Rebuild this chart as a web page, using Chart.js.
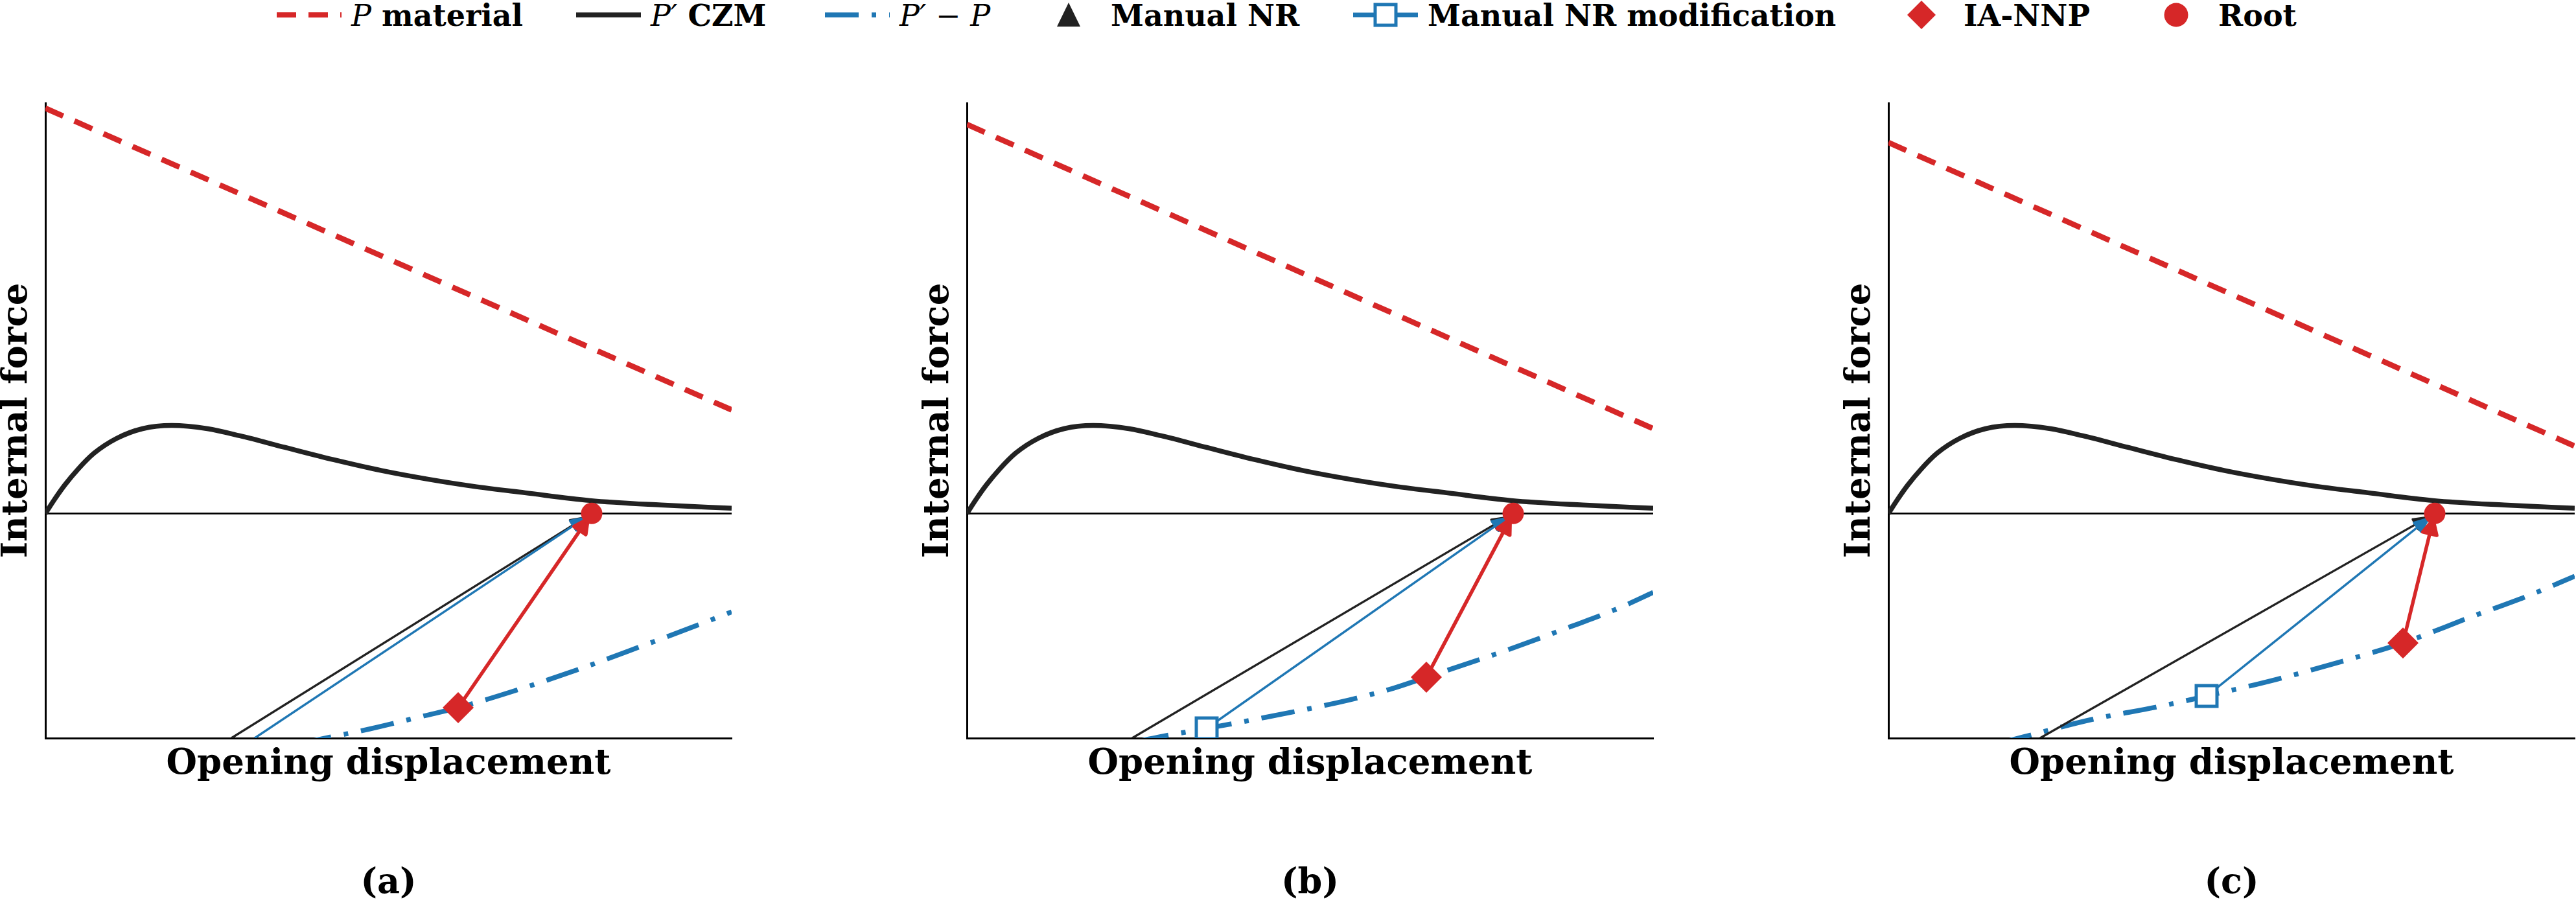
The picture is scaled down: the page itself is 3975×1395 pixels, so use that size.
<!DOCTYPE html>
<html>
<head>
<meta charset="utf-8">
<script src="https://cdn.jsdelivr.net/npm/chart.js@4.4.1/dist/chart.umd.min.js"></script>
<style>
  html, body { margin: 0; padding: 0; background: #fff; }
  body { width: 3975px; height: 1395px; position: relative; overflow: hidden; font-family: "DejaVu Serif", serif; }
  canvas { position: absolute; top: 100px; }
  .item { position: absolute; top: 0; height: 46px; }
  .item svg { position: absolute; left: 0; top: 0; }
  .item > .txt { position: absolute; left: 115px; top: 1px; font-size: 46px; line-height: 46px; font-weight: bold; white-space: nowrap; color: #000; }
  .item i { font-weight: normal; }
  .item .math { font-weight: normal; }
</style>
</head>
<body>
<div id="legend"></div>
<canvas id="chart-a" width="1130" height="1295" style="left:0px"></canvas>
<canvas id="chart-b" width="1130" height="1295" style="left:1422px"></canvas>
<canvas id="chart-c" width="1130" height="1295" style="left:2844px"></canvas>
<script>
// axis ranges (no ticks in the figure, units are arbitrary)
const xMax = 10.59;
const yMin = -3.47;
const yMax = 6.34;
const rootX = 8.43;

// P' CZM traction curve (same in every panel)
const czmX = [0, 0.15, 0.3, 0.5, 0.75, 1.1, 1.5, 1.95, 2.5, 3.0, 3.7, 4.45, 5.2, 5.9, 6.6, 7.4, 8.4, 9.5, 10.59];
const czmY = [0, 0.23, 0.44, 0.68, 0.93, 1.16, 1.31, 1.36, 1.31, 1.2, 1.02, 0.83, 0.66, 0.53, 0.42, 0.32, 0.2, 0.13, 0.08];

// P material line, start and end value per panel
const materialX = [0, xMax];
const materialA = [6.26, 1.6];
const materialB = [6.01, 1.31];
const materialC = [5.73, 1.04];

// P' - P
const residualXA = [3.9, 4.37, 5.0, 5.83, 6.37, 7.3, 8.25, 9.2, 10.13, 10.59];
const residualYA = [-3.56, -3.46, -3.33, -3.13, -3.0, -2.72, -2.4, -2.05, -1.7, -1.52];
const residualXB = [2.6, 2.98, 3.7, 4.4, 5.9, 6.58, 7.09, 8.25, 9.18, 10.11, 10.59];
const residualYB = [-3.53, -3.45, -3.32, -3.19, -2.88, -2.7, -2.53, -2.14, -1.8, -1.44, -1.22];
const residualXC = [1.7, 2.09, 3.15, 4.14, 4.91, 6.0, 7.05, 7.94, 8.96, 9.9, 10.59];
const residualYC = [-3.55, -3.45, -3.18, -2.99, -2.82, -2.56, -2.27, -2.0, -1.61, -1.26, -0.97];

// Manual NR step (start x on the lower edge), modification start, IA-NNP point
const nrStartX = [2.87, 2.55, 2.34];
const modStartA = [3.23, -3.47];
const modStartB = [3.7, -3.32];
const modStartC = [4.91, -2.82];
const nnpA = [6.37, -3.0];
const nnpB = [7.09, -2.53];
const nnpC = [7.94, -2.0];

const RED = "#d62728";
const BLUE = "#1f77b4";
const DARK = "#222222";
const FONT = "'DejaVu Serif', serif";

Chart.defaults.font.family = FONT;

// legend entries along the top
const legendItems = [
  { left: 427, label: "<i>P</i> material", svg: '<line x1="0" y1="23" x2="100" y2="23" stroke="' + RED + '" stroke-width="8" stroke-dasharray="30 19"/>' },
  { left: 889, label: "<i>P′</i> CZM", svg: '<line x1="0" y1="23" x2="100" y2="23" stroke="' + DARK + '" stroke-width="7.5"/>' },
  { left: 1273, label: '<span class="math"><i>P′</i> − <i>P</i></span>', svg: '<line x1="0" y1="23" x2="100" y2="23" stroke="' + BLUE + '" stroke-width="7.5" stroke-dasharray="52 20 7 20"/>' },
  { left: 1599, label: "Manual NR", svg: '<polygon points="50,4 32,41 68,41" fill="' + DARK + '"/>' },
  { left: 2088, label: "Manual NR modification", svg: '<line x1="0" y1="23" x2="100" y2="23" stroke="' + BLUE + '" stroke-width="7"/><rect x="34" y="7" width="32" height="32" fill="#fff" stroke="' + BLUE + '" stroke-width="5"/>' },
  { left: 2915, label: "IA-NNP", svg: '<polygon points="50,1 72,23 50,45 28,23" fill="' + RED + '"/>' },
  { left: 3308, label: "Root", svg: '<circle cx="50" cy="23" r="18.5" fill="' + RED + '"/>' },
];

const legend = document.getElementById("legend");
legendItems.forEach((item) => {
  const div = document.createElement("div");
  div.className = "item";
  div.style.left = item.left + "px";
  div.innerHTML = '<svg width="100" height="46">' + item.svg + '</svg><div class="txt">' + item.label + "</div>";
  legend.appendChild(div);
});

// arrow heads at the end of the step lines
const arrowHeads = {
  id: "arrowHeads",
  afterDatasetDraw(chart, args) {
    const ds = chart.data.datasets[args.index];
    if (!ds.head) return;
    const pts = args.meta.data;
    const from = pts[pts.length - 2];
    const to = pts[pts.length - 1];
    const ang = Math.atan2(to.y - from.y, to.x - from.x);
    const ctx = chart.ctx;
    ctx.save();
    ctx.translate(to.x - Math.cos(ang) * ds.head.shrink, to.y - Math.sin(ang) * ds.head.shrink);
    ctx.rotate(ang);
    ctx.beginPath();
    ctx.moveTo(0, 0);
    ctx.lineTo(-ds.head.length, ds.head.half);
    ctx.lineTo(-ds.head.length, -ds.head.half);
    ctx.closePath();
    ctx.fillStyle = ds.borderColor;
    ctx.strokeStyle = ds.borderColor;
    ctx.lineWidth = ds.borderWidth;
    ctx.lineJoin = "round";
    ctx.fill();
    ctx.stroke();
    ctx.restore();
  },
};

function toPoints(xs, ys) {
  return xs.map((x, i) => ({ x: x, y: ys[i] }));
}

function lineSet(data, color, width, order, extra) {
  return Object.assign({
    data: data,
    borderColor: color,
    backgroundColor: color,
    borderWidth: width,
    pointRadius: 0,
    pointHoverRadius: 0,
    fill: false,
    clip: 0,
    order: order,
  }, extra || {});
}

function pointSet(point, style, radius, color, fillColor, border, order) {
  return {
    data: [{ x: point[0], y: point[1] }],
    showLine: false,
    pointStyle: style,
    pointRadius: radius,
    pointHoverRadius: radius,
    pointBackgroundColor: fillColor,
    pointBorderColor: color,
    pointBorderWidth: border,
    clip: 0,
    order: order,
  };
}

function makePanel(id, label, material, resX, resY, nrX, modStart, nnp, showSquare) {
  const root = [rootX, 0];
  const datasets = [
    lineSet([{ x: 0, y: 0 }, { x: xMax, y: 0 }], "#000", 2.7, 20),
    lineSet(toPoints(materialX, material), RED, 8.5, 19, { borderDash: [30, 19] }),
    lineSet(toPoints(czmX, czmY), DARK, 7.5, 18, { cubicInterpolationMode: "monotone" }),
    lineSet(toPoints(resX, resY), BLUE, 7.5, 17, { borderDash: [52, 20, 7, 20], cubicInterpolationMode: "monotone" }),
    lineSet([{ x: nrX, y: yMin }, { x: root[0], y: root[1] }], DARK, 3.4, 16, { head: { length: 22, half: 9, shrink: 12 } }),
    lineSet([{ x: modStart[0], y: modStart[1] }, { x: root[0], y: root[1] }], BLUE, 3.4, 15, { head: { length: 22, half: 9, shrink: 12 } }),
    lineSet([{ x: nnp[0], y: nnp[1] }, { x: root[0], y: root[1] }], RED, 5.5, 14, { head: { length: 22, half: 11, shrink: 10 } }),
    pointSet(nnp, "rectRot", 24, RED, RED, 0, 3),
    pointSet(root, "circle", 16.5, RED, RED, 0, 1),
  ];
  if (showSquare) {
    datasets.push(pointSet(modStart, "rect", 22.6, BLUE, "#fff", 5, 4));
  }

  const titleFont = { family: FONT, size: 54.5, weight: "bold", lineHeight: 1 };

  return new Chart(document.getElementById(id), {
    type: "line",
    data: { datasets: datasets },
    options: {
      responsive: false,
      devicePixelRatio: 1,
      animation: false,
      events: [],
      layout: { autoPadding: false, padding: { top: 59, right: 1, bottom: 0, left: 0 } },
      scales: {
        x: {
          type: "linear",
          min: 0,
          max: xMax,
          ticks: { display: false },
          grid: { display: false, drawTicks: false },
          border: { display: true, color: "#000", width: 3 },
          title: { display: true, text: "Opening displacement", color: "#000", font: titleFont, padding: 0 },
          afterFit: (scale) => { scale.height = 68; },
        },
        y: {
          type: "linear",
          min: yMin,
          max: yMax,
          ticks: { display: false },
          grid: { display: false, drawTicks: false },
          border: { display: true, color: "#000", width: 3 },
          title: { display: true, text: "Internal force", color: "#000", font: titleFont, padding: 0 },
          afterFit: (scale) => { scale.width = 70; },
        },
      },
      plugins: {
        legend: { display: false },
        tooltip: { enabled: false },
        title: {
          display: true,
          text: label,
          position: "bottom",
          fullSize: false,
          color: "#000",
          font: { family: FONT, size: 54, weight: "bold", lineHeight: 1 },
          padding: { top: 130, bottom: 4 },
        },
      },
    },
    plugins: [arrowHeads],
  });
}

makePanel("chart-a", "(a)", materialA, residualXA, residualYA, nrStartX[0], modStartA, nnpA, false);
makePanel("chart-b", "(b)", materialB, residualXB, residualYB, nrStartX[1], modStartB, nnpB, true);
makePanel("chart-c", "(c)", materialC, residualXC, residualYC, nrStartX[2], modStartC, nnpC, true);
</script>
</body>
</html>
